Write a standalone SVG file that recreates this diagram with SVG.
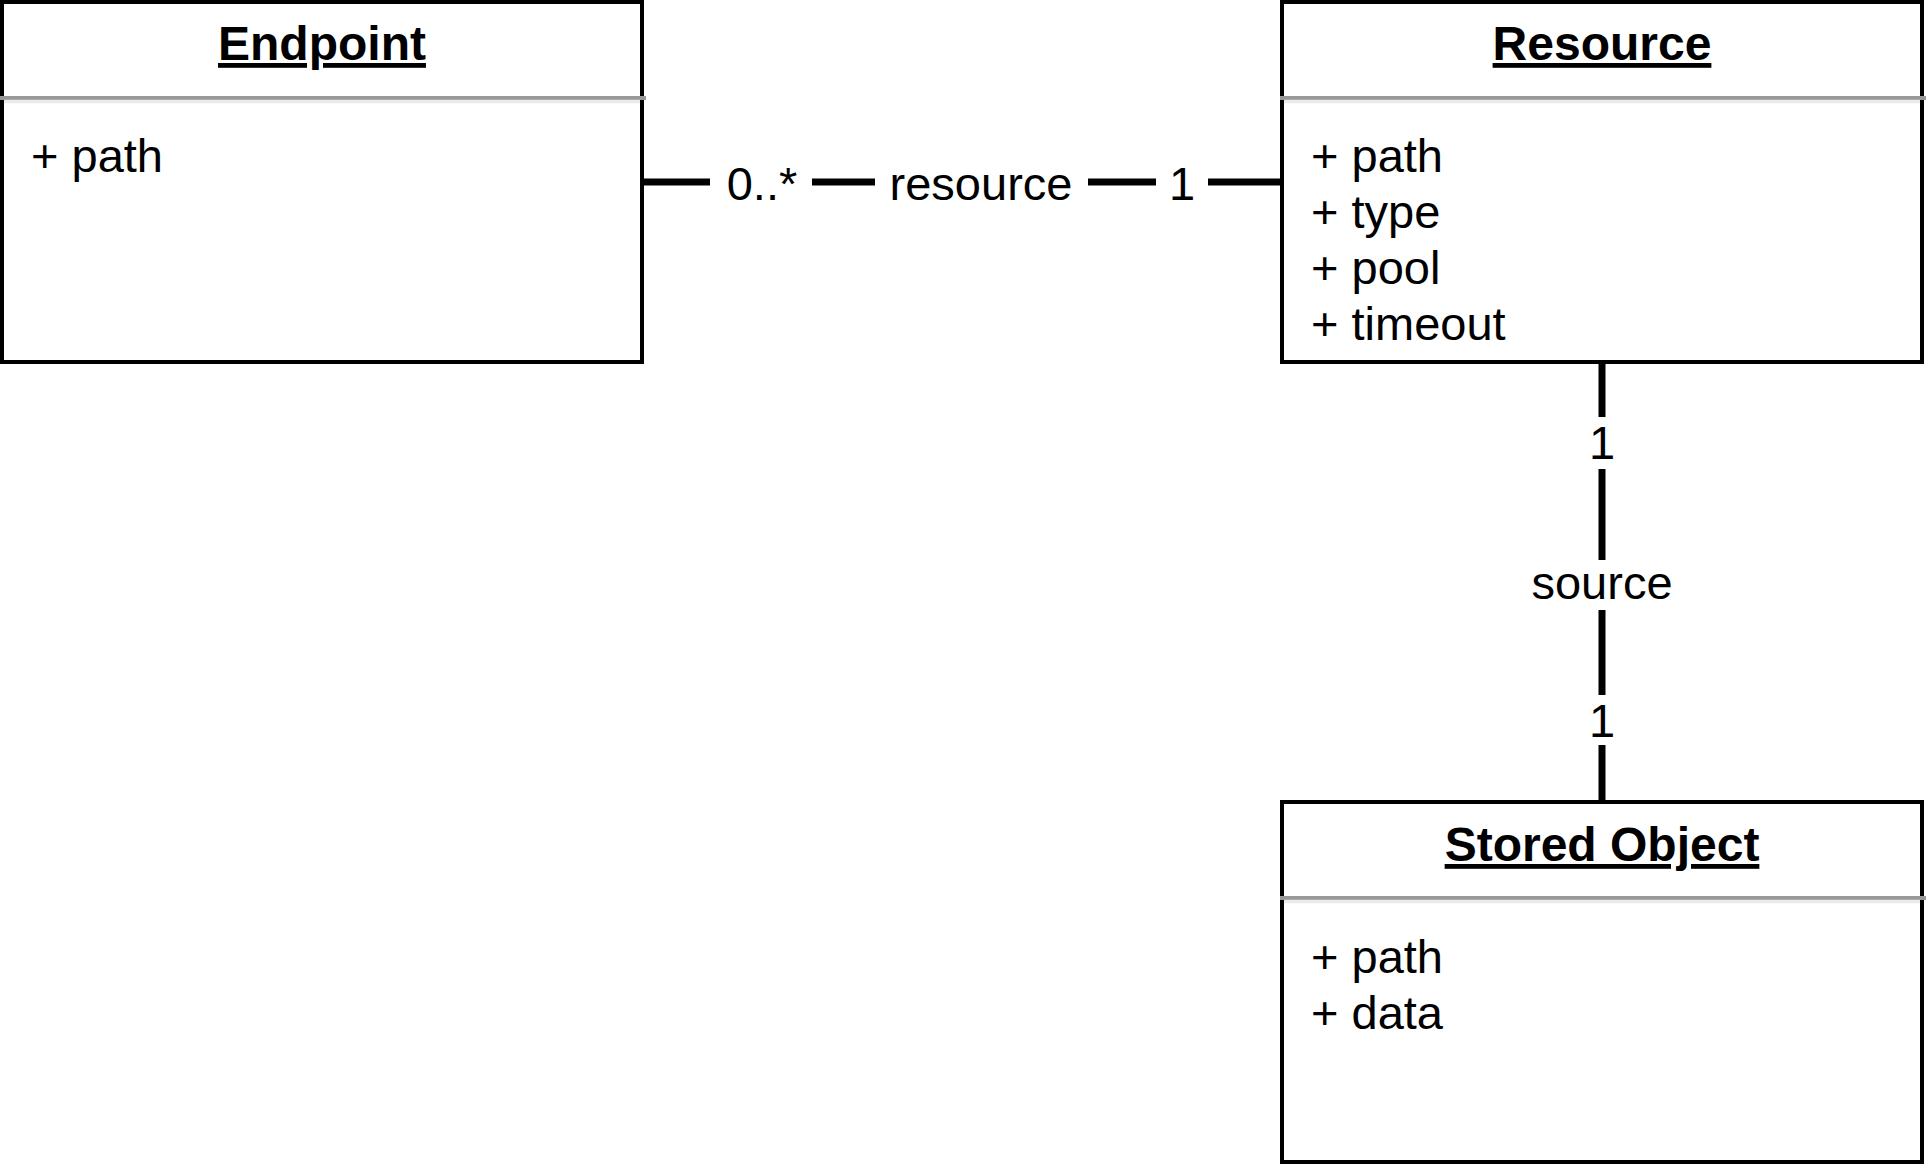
<svg xmlns="http://www.w3.org/2000/svg" width="1928" height="1168" viewBox="0 0 1928 1168">
  <style>
    .box { fill: #ffffff; stroke: #000000; stroke-width: 4; }
    .sep-dark { stroke: #999999; stroke-width: 4; }
    .sep-light { stroke: #ebebeb; stroke-width: 3.5; }
    .title { font-family: "Liberation Sans", Arial, Helvetica, sans-serif; font-size: 48px; font-weight: bold; text-anchor: middle; text-decoration: underline; fill: #000; }
    .attr { font-family: "Liberation Sans", Arial, Helvetica, sans-serif; font-size: 47px; fill: #000; }
    .edge { stroke: #000000; stroke-width: 7; fill: none; }
    .lbl-bg { fill: #ffffff; stroke: none; }
    .lbl { font-family: "Liberation Sans", Arial, Helvetica, sans-serif; font-size: 47px; text-anchor: middle; fill: #000; }
  </style>

  <rect width="1928" height="1168" fill="#ffffff"/>

  <!-- associations -->
  <g id="connectors">
    <!-- Endpoint to Resource -->
    <line class="edge" x1="642" y1="182" x2="1282" y2="182"/>
    <rect class="lbl-bg" x="710" y="158" width="102" height="52"/>
    <text class="lbl" x="762" y="200">0..*</text>
    <rect class="lbl-bg" x="875" y="158" width="213" height="52"/>
    <text class="lbl" x="981" y="200">resource</text>
    <rect class="lbl-bg" x="1156" y="158" width="52" height="52"/>
    <text class="lbl" x="1182" y="200">1</text>

    <!-- Resource to Stored Object -->
    <line class="edge" x1="1602" y1="362" x2="1602" y2="802"/>
    <rect class="lbl-bg" x="1570" y="417" width="64" height="52"/>
    <text class="lbl" x="1602" y="459">1</text>
    <rect class="lbl-bg" x="1520" y="560" width="164" height="50"/>
    <text class="lbl" x="1602" y="599">source</text>
    <rect class="lbl-bg" x="1570" y="695" width="64" height="50"/>
    <text class="lbl" x="1602" y="737">1</text>
  </g>

  <!-- class: Endpoint -->
  <g id="endpoint">
    <rect class="box" x="2" y="2" width="640" height="360"/>
    <line class="sep-dark" x1="0" y1="98" x2="646" y2="98"/>
    <line class="sep-light" x1="4" y1="101.5" x2="640" y2="101.5"/>
    <text class="title" x="322" y="60">Endpoint</text>
    <text class="attr" x="31" y="172">+ path</text>
  </g>

  <!-- class: Resource -->
  <g id="resource">
    <rect class="box" x="1282" y="2" width="640" height="360"/>
    <line class="sep-dark" x1="1280" y1="98" x2="1926" y2="98"/>
    <line class="sep-light" x1="1284" y1="101.5" x2="1920" y2="101.5"/>
    <text class="title" x="1602" y="60">Resource</text>
    <text class="attr" x="1311" y="172">+ path</text>
    <text class="attr" x="1311" y="228">+ type</text>
    <text class="attr" x="1311" y="284">+ pool</text>
    <text class="attr" x="1311" y="340">+ timeout</text>
  </g>

  <!-- class: Stored Object -->
  <g id="stored-object">
    <rect class="box" x="1282" y="802" width="640" height="360"/>
    <line class="sep-dark" x1="1280" y1="898" x2="1926" y2="898"/>
    <line class="sep-light" x1="1284" y1="901.5" x2="1920" y2="901.5"/>
    <text class="title" x="1602" y="861">Stored Object</text>
    <text class="attr" x="1311" y="973">+ path</text>
    <text class="attr" x="1311" y="1029">+ data</text>
  </g>
</svg>
